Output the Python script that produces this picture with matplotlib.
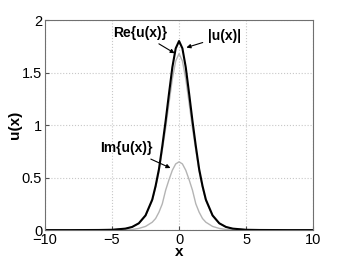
import numpy as np
import matplotlib.pyplot as plt

plt.rcParams['font.family'] = ['Liberation Sans', 'DejaVu Sans']

# one side of the symmetric pulse
x_half = [0, 0.25, 0.5, 0.75, 1.0, 1.25, 1.5, 1.75, 2.0, 2.5, 3.0, 3.5, 4.0, 5.0, 6.0, 8.0, 10.0]
abs_half = [1.80, 1.73, 1.55, 1.30, 1.04, 0.80, 0.58, 0.42, 0.29, 0.14, 0.065, 0.03, 0.014, 0.003, 0.001, 0.0, 0.0]
re_half = [1.68, 1.61, 1.44, 1.21, 0.97, 0.76, 0.555, 0.405, 0.28, 0.134, 0.063, 0.029, 0.014, 0.003, 0.001, 0.0, 0.0]
im_half = [0.65, 0.63, 0.57, 0.48, 0.38, 0.25, 0.17, 0.11, 0.075, 0.035, 0.016, 0.006, 0.002, 0.0, 0.0, 0.0, 0.0]

x_ticks = [-10, -5, 0, 5, 10]
y_ticks = [0, 0.5, 1, 1.5, 2]


def mirror(v, sign=1):
    v = np.asarray(v, dtype=float)
    return np.concatenate([sign * v[:0:-1], v])


x = mirror(x_half, -1)
u_abs = mirror(abs_half)
u_re = mirror(re_half)
u_im = mirror(im_half)

fig = plt.figure(figsize=(3.46, 2.6), dpi=100)
ax = fig.add_axes([0.130, 0.115, 0.775, 0.808])

ax.plot(x, u_im, color='#b4b4b4', lw=1.0)
ax.plot(x, u_re, color='#b4b4b4', lw=1.0)
ax.plot(x, u_abs, color='black', lw=1.5)

ax.set_xlim(-10, 10)
ax.set_ylim(0, 2)
ax.set_xticks(x_ticks)
ax.set_yticks(y_ticks)
ax.set_yticklabels(['0', '0.5', '1', '1.5', '2'])
ax.grid(True, color='#c8c8c8', linestyle=':', linewidth=0.8)
ax.tick_params(direction='in', length=3, labelsize=10.5, pad=2, colors='#505050',
               labelcolor='black')
for s in ax.spines.values():
    s.set_color('#707070')
    s.set_linewidth(0.8)

ax.set_xlabel('x', fontsize=11, fontweight='bold', labelpad=-1)
ax.set_ylabel('u(x)', fontsize=11, fontweight='bold', labelpad=0)

arw = dict(arrowstyle='-|>', color='black', lw=0.8, mutation_scale=6)
ax.annotate('Re{u(x)}', xy=(-0.15, 1.67), xytext=(-2.9, 1.88), fontsize=10,
            fontweight='bold', ha='center', va='center', arrowprops=arw)
ax.annotate('|u(x)|', xy=(0.35, 1.73), xytext=(3.4, 1.85), fontsize=10,
            fontweight='bold', ha='center', va='center', arrowprops=arw)
ax.annotate('Im{u(x)}', xy=(-0.45, 0.58), xytext=(-3.9, 0.78), fontsize=10,
            fontweight='bold', ha='center', va='center', arrowprops=arw)

fig.savefig('out.png', dpi=100)
